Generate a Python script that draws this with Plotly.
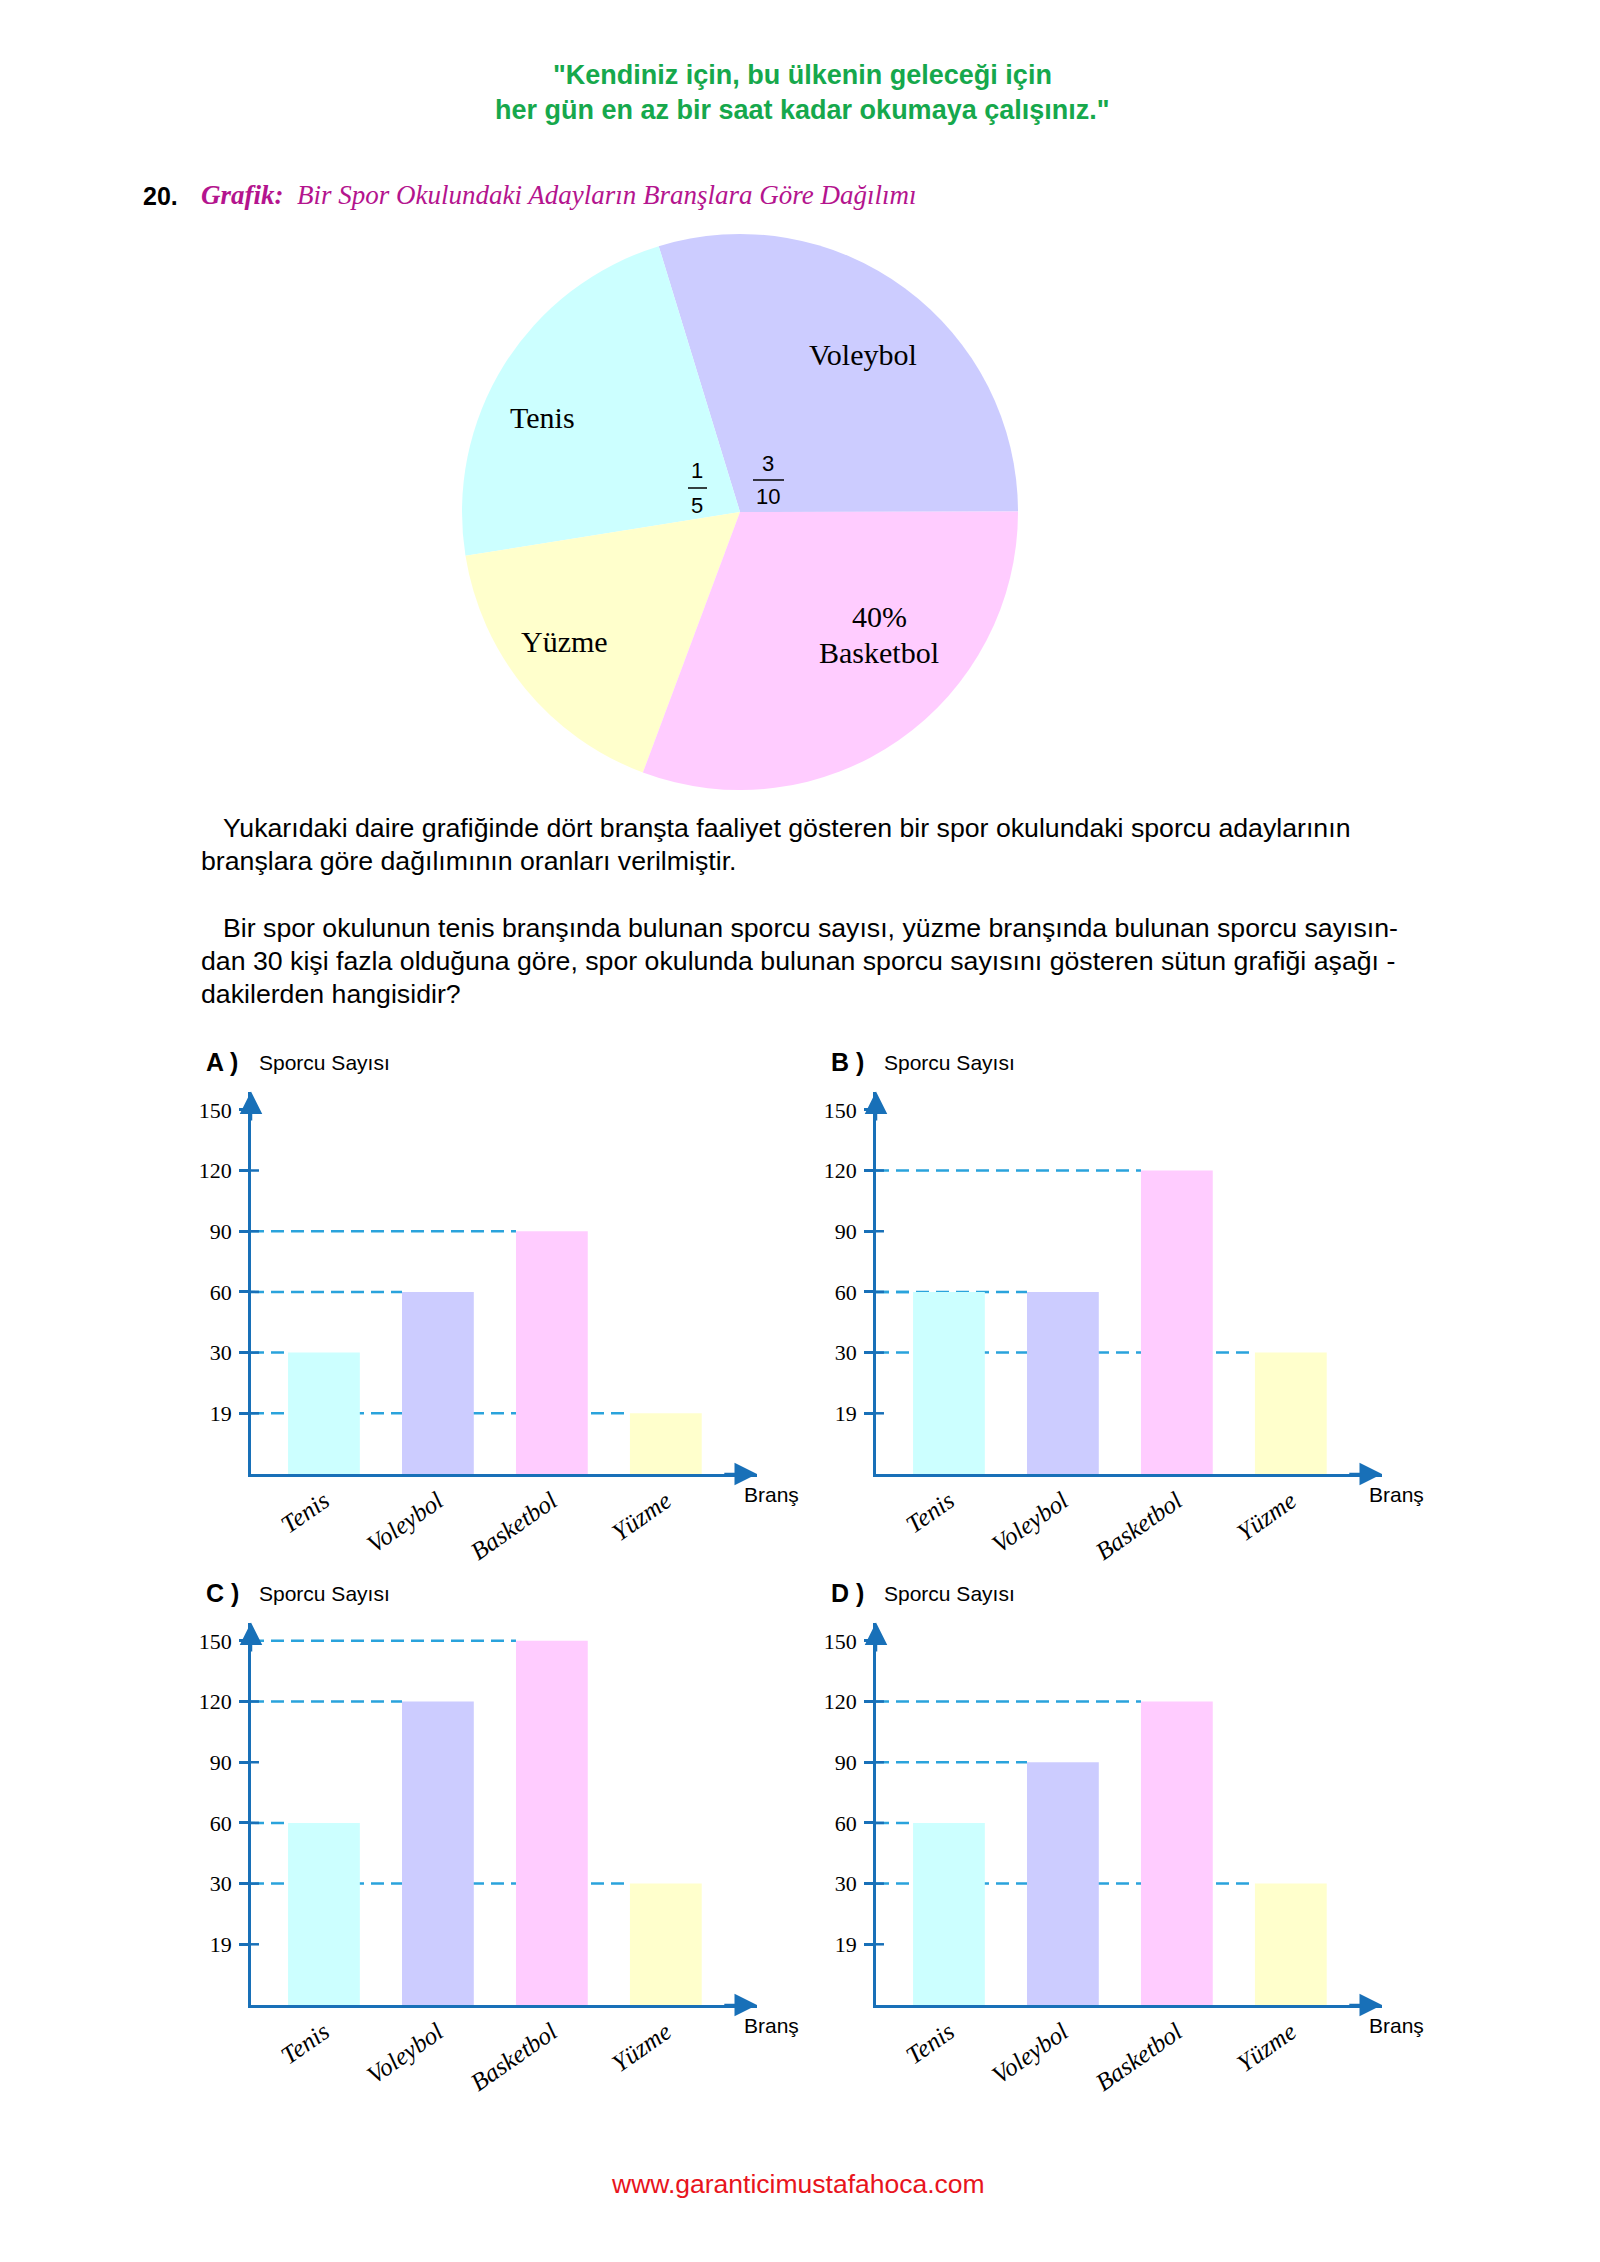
import plotly.graph_objects as go

# ---------------- data ----------------
PIE_LABELS = ["Voleybol", "Tenis", "Yüzme", "Basketbol"]
PIE_SHARES = [29.7, 22.8, 16.8, 30.7]          # drawn slice sizes (percent of circle)
PIE_COLORS = ["#CCCCFF", "#CCFFFF", "#FFFFCC", "#FFCCFF"]

BRANCHES = ["Tenis", "Voleybol", "Basketbol", "Yüzme"]
BAR_COLORS = ["#CCFFFF", "#CCCCFF", "#FFCCFF", "#FFFFCC"]
Y_LEVELS = ["0", "19", "30", "60", "90", "120", "150"]   # evenly spaced axis marks

OPT_A = [30, 60, 90, 19]
OPT_B = [60, 60, 120, 30]
OPT_C = [60, 120, 150, 30]
OPT_D = [60, 90, 120, 30]
OPTIONS = [("A", OPT_A), ("B", OPT_B), ("C", OPT_C), ("D", OPT_D)]

# ---------------- style ----------------
W, H = 1600, 2262
OFF = 8            # page body margin
SANS = "Liberation Sans"
SERIF = "Liberation Serif"
AXIS_BLUE = "#1870B8"
DASH_BLUE = "#2AA3DC"
GREEN = "#16A84C"
MAGENTA = "#B4148E"
RED = "#E8141C"
BAR_W = 0.63
X_RANGE = [-0.64, 3.8]
Y_RANGE = [0, 6.3]


def px(x):
    return (x - OFF) / W


def py(y):
    return 1 - (y - OFF) / H


fig = go.Figure()
annotations = []
shapes = []

# ---------------- header ----------------
annotations.append(dict(text='"Kendiniz için, bu ülkenin geleceği için', x=px(802), y=py(75),
                        font=dict(family=SANS, size=27, color=GREEN, weight="bold")))
annotations.append(dict(text='her gün en az bir saat kadar okumaya çalışınız."', x=px(802), y=py(110),
                        font=dict(family=SANS, size=27, color=GREEN, weight="bold")))
annotations.append(dict(text="<b>20.</b>", x=px(141), y=py(196), xanchor="left",
                        font=dict(family=SANS, size=25, color="black")))
annotations.append(dict(text="<b><i>Grafik:</i></b>  <i>Bir Spor Okulundaki Adayların Branşlara Göre Dağılımı</i>",
                        x=px(199), y=py(195), xanchor="left",
                        font=dict(family=SERIF, size=27, color=MAGENTA)))

# ---------------- pie ----------------
cx, cy, r = 740, 512, 278
fig.add_trace(go.Pie(labels=PIE_LABELS, values=PIE_SHARES, sort=False,
                     direction="counterclockwise", rotation=-17,
                     marker=dict(colors=PIE_COLORS, line=dict(width=0)),
                     textinfo="none", hoverinfo="label", showlegend=False,
                     domain=dict(x=[px(cx - r), px(cx + r)], y=[py(cy + r), py(cy - r)])))

pie_txt = [("Voleybol", 863, 355), ("Tenis", 542, 417), ("Yüzme", 564, 641),
           ("40%", 879, 617), ("Basketbol", 879, 652)]
for t, x, y in pie_txt:
    annotations.append(dict(text=t, x=px(x), y=py(y), font=dict(family=SERIF, size=30, color="black")))
for t, x, y in [("1", 697, 471), ("5", 697, 505), ("3", 768, 463), ("10", 768, 497)]:
    annotations.append(dict(text=t, x=px(x), y=py(y), font=dict(family=SANS, size=22, color="black")))
shapes.append(dict(type="line", xref="paper", yref="paper", x0=px(688), x1=px(707), y0=py(488), y1=py(488),
                   line=dict(color="black", width=1.5)))
shapes.append(dict(type="line", xref="paper", yref="paper", x0=px(753), x1=px(784), y0=py(480), y1=py(480),
                   line=dict(color="black", width=1.5)))

# ---------------- body text ----------------
body = [
    ("Yukarıdaki daire grafiğinde dört branşta faaliyet gösteren bir spor okulundaki sporcu adaylarının", 221, 828),
    ("branşlara göre dağılımının oranları verilmiştir.", 199, 861),
    ("Bir spor okulunun tenis branşında bulunan sporcu sayısı, yüzme branşında bulunan sporcu sayısın-", 221, 928),
    ("dan 30 kişi fazla olduğuna göre, spor okulunda bulunan sporcu sayısını gösteren sütun grafiği aşağı -", 199, 961),
    ("dakilerden hangisidir?", 199, 994),
]
for t, x, y in body:
    annotations.append(dict(text=t, x=px(x), y=py(y), xanchor="left",
                            font=dict(family=SANS, size=26.7, color="black")))

# ---------------- bar panels ----------------
origins = [(251, 1474), (876, 1474), (251, 2005), (876, 2005)]
unit_y = 60.7
x_len = 506
for k, ((letter, vals), (ox, oy)) in enumerate(zip(OPTIONS, origins)):
    n = k + 1
    xa = "x" if n == 1 else f"x{n}"
    ya = "y" if n == 1 else f"y{n}"
    fig.add_trace(go.Bar(x=BRANCHES, y=[str(v) for v in vals], width=BAR_W,
                         marker=dict(color=BAR_COLORS, line=dict(width=0)),
                         xaxis=xa, yaxis=ya, showlegend=False, hoverinfo="x+y"))
    top = oy - Y_RANGE[1] * unit_y
    fig.layout[f"xaxis{'' if n == 1 else n}"] = dict(
        domain=[px(ox), px(ox + x_len)], anchor=ya, type="category",
        categoryorder="array", categoryarray=BRANCHES, range=X_RANGE,
        showline=True, linecolor=AXIS_BLUE, linewidth=2.5, ticks="", showgrid=False,
        zeroline=False, tickangle=-35, fixedrange=True, ticklabelstandoff=0,
        tickfont=dict(family=SERIF, size=25, color="black", style="italic"))
    fig.layout[f"yaxis{'' if n == 1 else n}"] = dict(
        domain=[py(oy), py(top)], anchor=xa, type="category",
        categoryorder="array", categoryarray=Y_LEVELS, range=Y_RANGE,
        tickmode="array", tickvals=Y_LEVELS[1:], ticktext=Y_LEVELS[1:],
        showline=True, linecolor=AXIS_BLUE, linewidth=2.5, ticks="outside",
        ticklen=9, tickwidth=2.5, tickcolor=AXIS_BLUE, showgrid=False, zeroline=False,
        ticklabelstandoff=3, fixedrange=True,
        tickfont=dict(family=SERIF, size=22, color="black"))
    # dashed guide lines from the axis to each bar's left edge
    for i, v in enumerate(vals):
        lvl = Y_LEVELS.index(str(v))
        shapes.append(dict(type="line", xref=xa, yref=ya, x0=X_RANGE[0], x1=i - BAR_W / 2,
                           y0=lvl, y1=lvl, layer="below",
                           line=dict(color=DASH_BLUE, width=2.5, dash="13px,7px")))
    # short tick stubs on the inner side of the value axis
    for lvl in range(1, len(Y_LEVELS)):
        shapes.append(dict(type="line", xref=xa, yref=ya, x0=X_RANGE[0], x1=X_RANGE[0] + 0.07,
                           y0=lvl, y1=lvl, line=dict(color=AXIS_BLUE, width=2.5)))
    # arrow heads
    annotations.append(dict(xref=xa, yref=ya, axref=xa, ayref=ya, x=X_RANGE[1], y=0,
                            ax=X_RANGE[1] - 0.3, ay=0, text="", showarrow=True, arrowhead=2,
                            arrowsize=1.8, arrowwidth=2.5, arrowcolor=AXIS_BLUE, standoff=0))
    annotations.append(dict(xref=xa, yref=ya, axref=xa, ayref=ya, x=X_RANGE[0], y=Y_RANGE[1],
                            ax=X_RANGE[0], ay=Y_RANGE[1] - 0.5, text="", showarrow=True, arrowhead=2,
                            arrowsize=1.8, arrowwidth=2.5, arrowcolor=AXIS_BLUE, standoff=0))
    # labels
    annotations.append(dict(text=f"<b>{letter} )</b>", x=px(ox - 47), y=py(oy - 412), xanchor="left",
                            font=dict(family=SANS, size=25, color="black")))
    annotations.append(dict(text="Sporcu Sayısı", x=px(ox + 6), y=py(oy - 412), xanchor="left",
                            font=dict(family=SANS, size=21, color="black")))
    annotations.append(dict(text="Branş", x=px(ox + 491), y=py(oy + 20), xanchor="left",
                            font=dict(family=SANS, size=21, color="black")))

# ---------------- footer ----------------
annotations.append(dict(text="www.garanticimustafahoca.com", x=px(798), y=py(2184),
                        font=dict(family=SANS, size=26.5, color=RED)))

for a in annotations:
    a.setdefault("xref", "paper")
    a.setdefault("yref", "paper")
    a.setdefault("showarrow", False)
    if not a["showarrow"]:
        a.setdefault("xanchor", "center")
        a.setdefault("yanchor", "middle")

fig.update_layout(width=W, height=H, margin=dict(l=0, r=0, t=0, b=0),
                  paper_bgcolor="white", plot_bgcolor="rgba(0,0,0,0)",
                  annotations=annotations, shapes=shapes, showlegend=False)

fig.write_html("out.html")
